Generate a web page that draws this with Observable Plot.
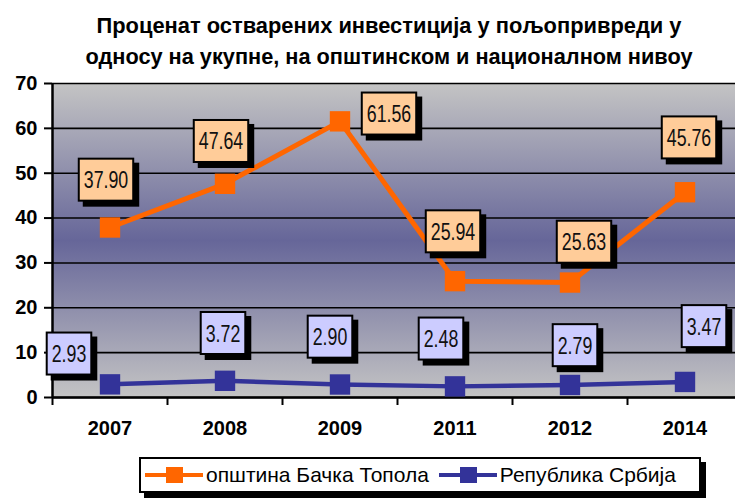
<!DOCTYPE html>
<html><head><meta charset="utf-8">
<script src="https://cdn.jsdelivr.net/npm/d3@7"></script>
<script src="https://cdn.jsdelivr.net/npm/@observablehq/plot@0.6"></script>
<style>
body{margin:0;background:#fff;width:735px;height:498px;overflow:hidden;position:relative;font-family:"Liberation Sans",Arial,sans-serif}
.tline{position:absolute;left:389px;white-space:nowrap;font-weight:bold;font-size:22px;line-height:22px;color:#000}
#chart{position:absolute;left:0;top:72px}
#legend{position:absolute;left:139px;top:457px;width:558px;height:32px;border:2px solid #000;background:#fff;box-shadow:5px 5px 0 #000;display:flex;align-items:center;font-size:21px;color:#000}
#legend .item{display:flex;align-items:center;margin-left:4px}
#legend svg{margin-right:3px}
</style></head>
<body>
<div id="title"></div>
<div id="chart"></div>
<div id="legend"></div>
<script>
const titleLines = ["Проценат остварених инвестиција у пољопривреди у", "односу на укупне, на општинском и националном нивоу"];
const years = ["2007", "2008", "2009", "2011", "2012", "2014"];
const topola = [37.90, 47.64, 61.56, 25.94, 25.63, 45.76];
const srbija = [2.93, 3.72, 2.90, 2.48, 2.79, 3.47];
const seriesNames = ["општина Бачка Топола", "Република Србија"];
const yTicks = [0, 10, 20, 30, 40, 50, 60, 70];

// layout only: title line tops / widths, label placement offsets in pixels
const titleTops = [15, 46];
const titleWidths = [585, 607];
const topolaLabelOffset = [[-4, -47], [-4, -42], [49, -7], [-2, -49], [14, -40], [4, -54]];
const srbijaLabelOffset = [[-41, -30], [-2, -47], [-10, -47], [-14, -47], [5, -39], [19, -55]];

const colors = {topola: "#FF6600", srbija: "#333399"};
const boxFills = {topola: "#FFCC99", srbija: "#CCCCFF"};

// title (condensed bold, as in the reference)
const titleDiv = document.getElementById("title");
titleLines.forEach((txt, k) => {
  const d = document.createElement("div");
  d.className = "tline";
  d.style.top = titleTops[k] + "px";
  d.textContent = txt;
  titleDiv.appendChild(d);
  const w = d.getBoundingClientRect().width;
  d.style.transform = `translateX(-50%) scaleX(${titleWidths[k] / w})`;
});

const idx = years.map((_, i) => i);
const topolaRows = idx.map(i => ({i, year: years[i], value: topola[i]}));
const srbijaRows = idx.map(i => ({i, year: years[i], value: srbija[i]}));
const boundaries = [...idx.map(i => i - 0.5), years.length - 0.5];

function labelMarks(rows, offsets) {
  return rows.map((r, k) => Plot.text([r], {
    x: "i", y: "value", text: d => d.value.toFixed(2),
    dx: offsets[k][0], dy: offsets[k][1],
    fontSize: 24, fill: "#111"
  }));
}

const plot = Plot.plot({
  width: 735, height: 383,
  marginLeft: 52, marginRight: -7, marginTop: 11, marginBottom: 58,
  style: {fontFamily: '"Liberation Sans",Arial,sans-serif', color: "#000", background: "transparent"},
  x: {type: "linear", domain: [-0.5, years.length - 0.5]},
  y: {domain: [0, 70]},
  marks: [
    Plot.frame({fill: "url(#bgGrad)", stroke: "none"}),
    Plot.ruleY(yTicks, {stroke: "#000", strokeWidth: 1.6}),
    Plot.ruleY([0], {stroke: "#000", strokeWidth: 2.5}),
    Plot.ruleX([-0.5], {stroke: "#000", strokeWidth: 2.5}),
    Plot.axisY({ticks: yTicks, tickSize: 8, tickPadding: 7, fontSize: 20, fontWeight: "bold", strokeWidth: 2, label: null}),
    Plot.axisX({ticks: boundaries, tickSize: 8, tickFormat: () => "", strokeWidth: 2, label: null}),
    Plot.axisX({ticks: idx, tickSize: 0, tickPadding: 23, tickFormat: i => years[i], fontSize: 20, fontWeight: "bold", label: null}),
    Plot.line(topolaRows, {x: "i", y: "value", stroke: colors.topola, strokeWidth: 5}),
    Plot.line(srbijaRows, {x: "i", y: "value", stroke: colors.srbija, strokeWidth: 4.5}),
    Plot.dot(topolaRows, {x: "i", y: "value", symbol: "square", r: 11.5, fill: colors.topola, stroke: "none"}),
    Plot.dot(srbijaRows, {x: "i", y: "value", symbol: "square", r: 11.5, fill: colors.srbija, stroke: "none"}),
    ...labelMarks(topolaRows, topolaLabelOffset),
    ...labelMarks(srbijaRows, srbijaLabelOffset)
  ]
});
document.getElementById("chart").appendChild(plot);

const ns = "http://www.w3.org/2000/svg";
const defs = document.createElementNS(ns, "defs");
defs.innerHTML = '<linearGradient id="bgGrad" x1="0" y1="0" x2="0" y2="1">' +
  '<stop offset="0" stop-color="#C4C4C4"/><stop offset="0.5" stop-color="#666699"/><stop offset="1" stop-color="#C4C4C4"/></linearGradient>';
plot.insertBefore(defs, plot.firstChild);

const groups = plot.querySelectorAll('g[aria-label="text"]');
groups.forEach((g, k) => {
  const fillC = k < years.length ? boxFills.topola : boxFills.srbija;
  g.querySelectorAll("text").forEach(t => {
    const b0 = t.getBBox();
    const tw = b0.width * 0.74;
    t.setAttribute("textLength", tw);
    t.setAttribute("lengthAdjust", "spacingAndGlyphs");
    const b = t.getBBox();
    const w = tw + 10, h = 42;
    const cx = b.x + b.width / 2, cy = b.y + b.height / 2;
    const tr = t.getAttribute("transform");
    const mk = (off, fill, stroke) => {
      const r = document.createElementNS(ns, "rect");
      r.setAttribute("x", cx - w / 2 + off);
      r.setAttribute("y", cy - h / 2 + off);
      r.setAttribute("width", w);
      r.setAttribute("height", h);
      r.setAttribute("fill", fill);
      r.setAttribute("stroke", stroke);
      r.setAttribute("stroke-width", 2);
      if (tr) r.setAttribute("transform", tr);
      return r;
    };
    g.insertBefore(mk(5, "#000", "#000"), t);
    g.insertBefore(mk(0, fillC, "#000"), t);
  });
});

// legend
const legend = document.getElementById("legend");
[["topola", seriesNames[0]], ["srbija", seriesNames[1]]].forEach(([key, name], k) => {
  const item = document.createElement("div");
  item.className = "item";
  if (k === 1) item.style.marginLeft = "10px";
  item.innerHTML = `<svg width="58" height="20"><line x1="0" x2="58" y1="10" y2="10" stroke="${colors[key]}" stroke-width="4"/>` +
    `<rect x="21" y="2" width="17" height="16" fill="${colors[key]}"/></svg><span>${name}</span>`;
  legend.appendChild(item);
});
</script>
</body></html>
